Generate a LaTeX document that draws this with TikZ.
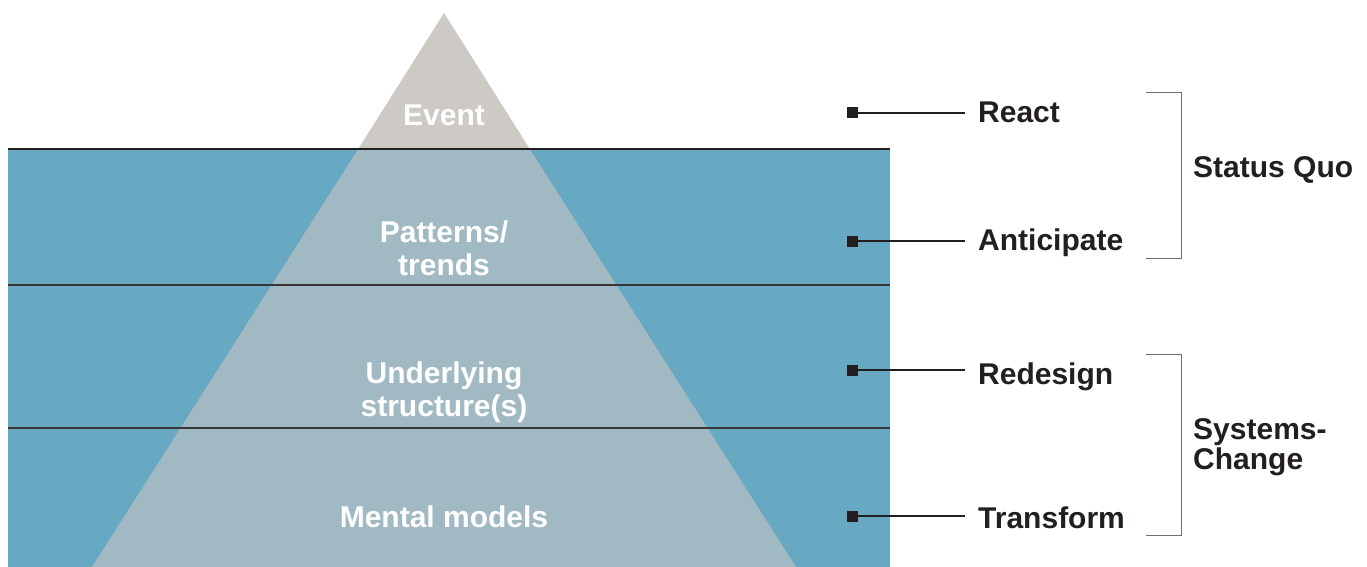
\documentclass[tikz,border=0pt]{standalone}
\usepackage{fontspec}
\setmainfont{Liberation Sans}
\definecolor{water}{HTML}{67A9C2}
\definecolor{icesub}{HTML}{A1B9C2}
\definecolor{icetop}{HTML}{CDCAC5}
\definecolor{ink}{HTML}{231F20}
\definecolor{brk}{HTML}{6E6E6E}
\tikzset{
  lvl/.style={font=\fontsize{30}{33}\selectfont\bfseries, text=white, align=center, inner sep=0pt},
  act/.style={font=\fontsize{30}{30}\selectfont\bfseries, text=ink, inner xsep=13pt, inner ysep=0pt, anchor=base west},
  grp/.style={font=\fontsize{30}{30}\selectfont\bfseries, text=ink, align=left, inner sep=0pt, anchor=west},
  sq/.style={rectangle, fill=ink, minimum size=11pt, inner sep=0pt},
  conn/.style={draw=ink, line width=2.2pt},
  sep/.style={draw=ink!90, line width=1.5pt},
  bracket/.style={draw=brk, line width=1pt}
}
\begin{document}
\begin{tikzpicture}[x=1pt,y=-1pt]
\useasboundingbox (0,0) rectangle (1367,567);
% water
\fill[water] (8,149) rectangle (890,567);
% iceberg
\fill[icetop] (444,13) -- (529.8,149) -- (358.2,149) -- cycle;
\fill[icesub] (358.2,149) -- (529.8,149) -- (796,567) -- (92,567) -- cycle;
% separators
\draw[draw=ink, line width=2.5pt] (8,149) -- (890,149);
\draw[sep] (8,285) -- (890,285);
\draw[sep] (8,428) -- (890,428);
% level labels
\node[lvl] (ev) at (444,115) {Event};
\node[lvl] (pt) at (444,248) {Patterns/\\trends};
\node[lvl] (us) at (444,392) {Underlying\\structure(s)};
\node[lvl] (mm) at (444,517) {Mental models};
% actions
\node[sq] (s1) at (852,113) {};
\node[sq] (s2) at (852,241) {};
\node[sq] (s3) at (852,370) {};
\node[sq] (s4) at (852,516) {};
\node[act] (a1) at (965,122) {React};
\node[act] (a2) at (965,250) {Anticipate};
\node[act] (a3) at (965,384) {Redesign};
\node[act] (a4) at (965,528) {Transform};
\draw[conn] (s1.center) -- (s1 -| a1.west);
\draw[conn] (s2.center) -- (s2 -| a2.west);
\draw[conn] (s3.center) -- (s3 -| a3.west);
\draw[conn] (s4.center) -- (s4 -| a4.west);
% brackets
\coordinate (b1t) at (1146,93);
\coordinate (b1b) at (1146,258);
\coordinate (b2t) at (1146,354);
\coordinate (b2b) at (1146,535);
\draw[bracket] (b1t) -- (1181,93) -- (1181,258) -- (b1b);
\draw[bracket] (b2t) -- (1181,354) -- (1181,535) -- (b2b);
\node[grp] (g1) at (1193,170) {Status Quo};
\node[grp] (g2) at (1193,447) {Systems-\\Change};
\end{tikzpicture}
\end{document}
